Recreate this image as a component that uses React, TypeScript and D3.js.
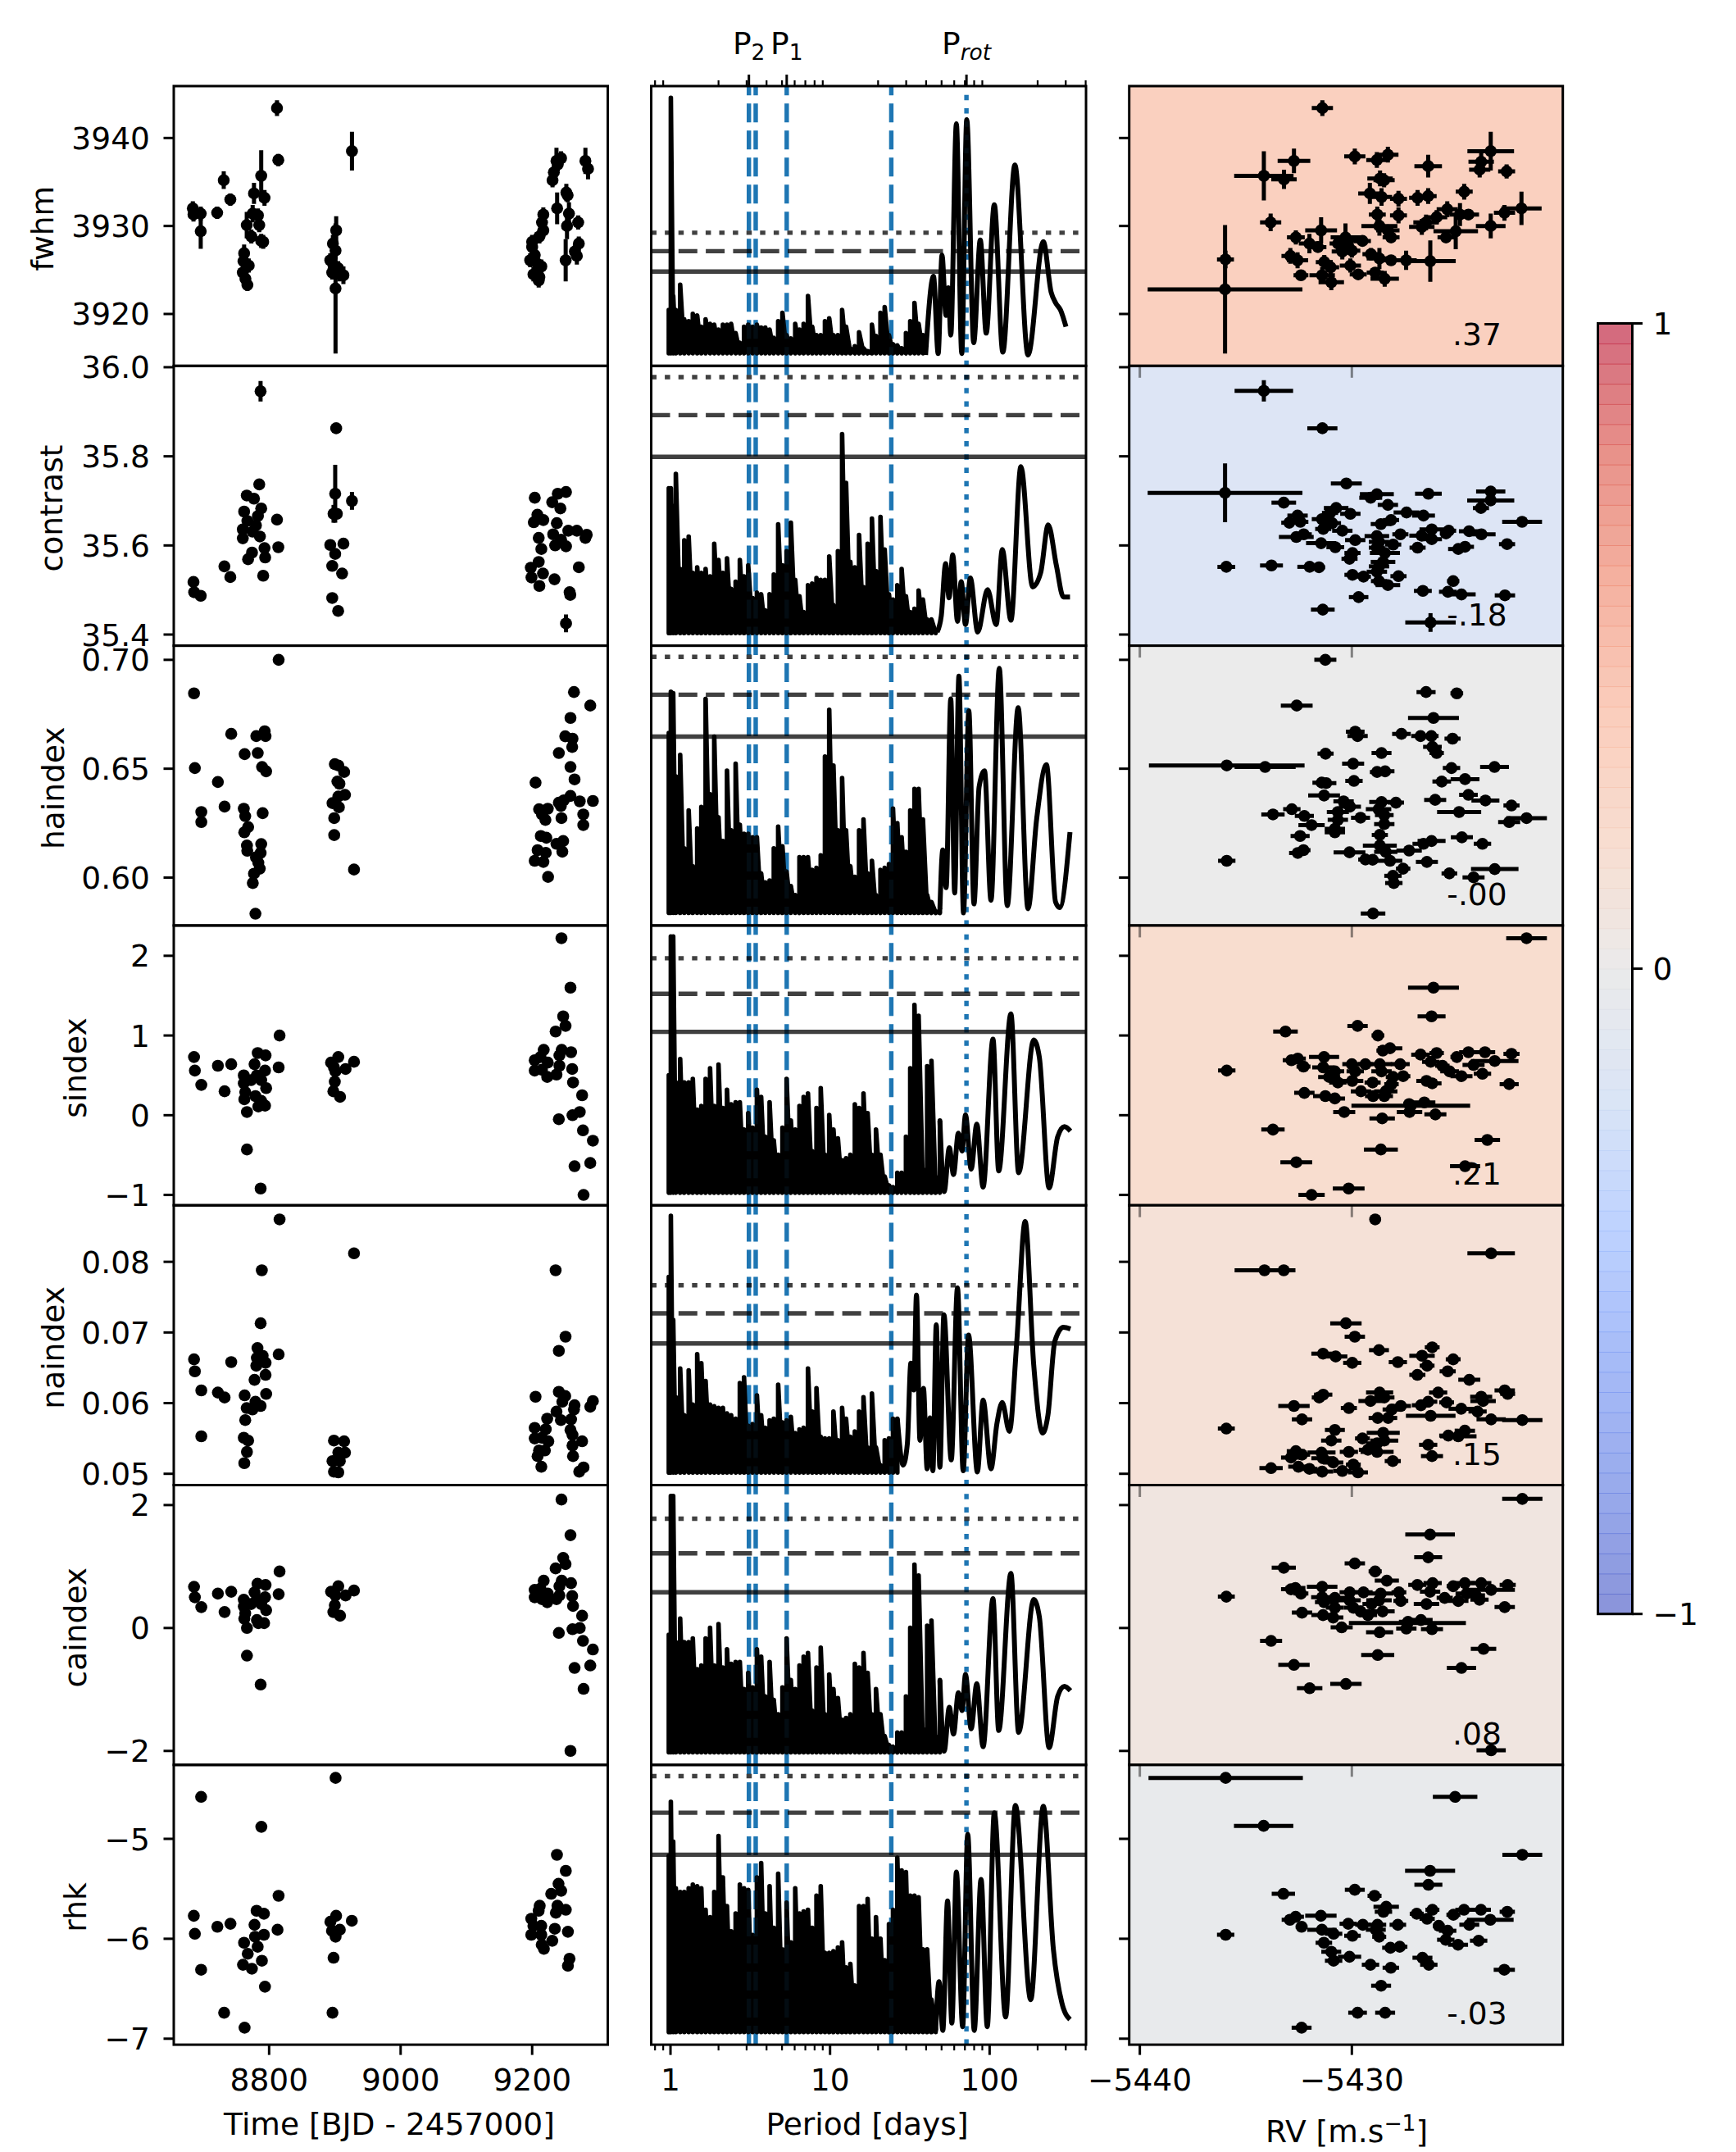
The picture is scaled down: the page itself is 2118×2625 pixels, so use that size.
import * as d3 from 'd3'

const WIDTH = 2118
const HEIGHT = 2625

// [time, value, error]
const fwhmSeries = [[8684,3932,.8],[8685,3931.3,.8],[8696,3931.4,.8],[8696,3929.4,2],[8721,3931.5,.7],[8731,3935.2,1],[8741,3933,.7],[8762,3926.9,1],[8761,3926,.8],[8769,3925.5,.8],[8760,3924.7,.8],[8764,3924,.8],[8767,3923.3,.7],[8766,3930.1,1.5],[8777,3933.7,1.2],[8775,3931.4,1],[8783,3931.2,.8],[8785,3930.1,.8],[8773,3928.8,.8],[8788,3928.3,.8],[8791,3928.2,.8],[8788,3935.7,2.9],[8793,3933.2,.9],[8812,3943.4,.9],[8814,3937.5,.7],[8926,3938.5,2.2],[8902,3929.5,1.6],[8897,3928,1],[8901,3927.2,1],[8893,3926.1,.8],[8898,3925.5,.8],[8896,3924.7,.8],[8905,3925.2,.8],[8907,3924.5,.8],[8913,3924.4,1],[8901,3922.9,7.4],[9231,3935.2,.8],[9233,3936.1,.8],[9237,3937.4,1.5],[9244,3937.7,.8],[9239,3937,.8],[9238,3932,1.8],[9252,3933.8,1],[9254,3933.5,.8],[9256,3931.4,1.3],[9253,3930,1.5],[9270,3930.4,.8],[9217,3931.3,.8],[9215,3930.4,.8],[9217,3929.5,.8],[9211,3928.8,.8],[9200,3928.2,.8],[9200,3927.6,.8],[9204,3926.7,.8],[9197,3926.1,.8],[9208,3925.7,.8],[9214,3925.4,.8],[9202,3924.5,.8],[9211,3924.2,.8],[9210,3923.8,.8],[9251,3926.1,2.4],[9271,3928,.8],[9268,3926.6,1],[9265,3927.1,.8],[9281,3937.4,1.5],[9285,3936.5,1.2]]
const contrastSeries = [[8787,35.946,.023],[8902,35.863,.01],[8900.5,35.716,.065],[8926,35.70,.02],[8785,35.737,.012],[8766,35.712,.01],[8777,35.705,.005],[8762,35.676,.01],[8788,35.683,.005],[8783,35.666,.01],[8812,35.658,.005],[8767,35.655,.005],[8780,35.645,.005],[8760,35.636,.005],[8775,35.631,.005],[8786,35.62,.005],[8760,35.616,.005],[8793,35.594,.005],[8814,35.596,.005],[8774,35.584,.005],[8794,35.573,.005],[8768,35.569,.005],[8732,35.553,.005],[8741,35.529,.005],[8791,35.532,.005],[8685,35.518,.005],[8686,35.495,.005],[8696,35.487,.005],[8898,35.671,.02],[8903,35.671,.005],[8893,35.601,.005],[8913,35.604,.005],[8900.5,35.581,.005],[8896,35.554,.005],[8911,35.537,.005],[8896,35.482,.005],[8905,35.453,.005],[9204,35.707,.005],[9251.5,35.72,.005],[9239,35.716,.005],[9230.5,35.697,.005],[9243,35.683,.005],[9208,35.669,.005],[9217,35.657,.005],[9202.5,35.652,.005],[9237.5,35.65,.005],[9255,35.633,.005],[9268,35.633,.005],[9232,35.625,.005],[9210,35.617,.005],[9283,35.624,.005],[9281,35.617,.005],[9244,35.613,.005],[9235,35.6,.005],[9251.5,35.598,.005],[9214,35.592,.005],[9210,35.563,.005],[9198,35.55,.005],[9271,35.551,.005],[9216.5,35.537,.005],[9199,35.528,.005],[9234,35.524,.005],[9211,35.509,.005],[9257,35.495,.005],[9258,35.489,.005],[9251.5,35.425,.02]]
const haindexSeries = [[8814.5,.70],[8685.8,.6846],[8742.4,.666],[8793.3,.6672],[8780.5,.665],[8794.6,.665],[8762.8,.6567],[8782.7,.6572],[8789.3,.6508],[8795.5,.6488],[8687.1,.6503],[8722.1,.6439],[8732.3,.6326],[8696.9,.6301],[8696.9,.6255],[8761.5,.6316],[8763.7,.6282],[8790.2,.6296],[8768.1,.6232],[8762.3,.6208],[8788,.6154],[8766.3,.6147],[8766.8,.6123],[8787.1,.6113],[8780,.6093],[8783.6,.6068],[8785.8,.6041],[8777,.6018],[8775.2,.5975],[8779.2,.5834],[8899.9,.6521],[8905.2,.6515],[8914.1,.6485],[8903.9,.6441],[8907,.6431],[8905.2,.6372],[8915.4,.638],[8896.4,.6342],[8906.1,.6323],[8899,.6273],[8899,.6195],[8929.1,.6037],[9263.6,.6852],[9288.4,.679],[9258.3,.6733],[9250.3,.6649],[9261.4,.6638],[9260.9,.66],[9240.6,.6572],[9258.3,.6508],[9264.5,.6451],[9205.2,.6436],[9258.3,.6375],[9240.6,.6344],[9248.1,.6355],[9272.4,.635],[9292.4,.6352],[9243.7,.6329],[9210.5,.6314],[9223.8,.6316],[9214.9,.629],[9220.2,.6265],[9244.6,.6273],[9277.8,.629],[9277.8,.6241],[9213.2,.6191],[9221.6,.6183],[9237,.6155],[9247.2,.6168],[9245.9,.6119],[9208.3,.6126],[9220.7,.6114],[9203.9,.6077],[9217.1,.6072],[9224.2,.6003]]
const sindexSeries = [[8814.5,.6],[8815.9,1],[8685.8,.73],[8687.1,.56],[8696.9,.38],[8722.1,.62],[8742.4,.64],[8732.3,.3],[8782.7,.78],[8794.6,.75],[8777.8,.64],[8793.8,.56],[8781.4,.5],[8761.5,.5],[8772.5,.44],[8761.5,.4],[8788,.44],[8795.5,.34],[8763.7,.29],[8762.3,.2],[8779.2,.24],[8788,.18],[8783.6,.11],[8793.8,.12],[8766.3,.04],[8766.3,-.43],[8787.1,-.92],[8905.2,.73],[8929.1,.67],[8894.2,.66],[8898.6,.6],[8916.3,.58],[8900.8,.55],[8899.9,.42],[8897.7,.3],[8907.9,.23],[9244.6,2.22],[9258.3,1.6],[9247.2,1.24],[9250.8,1.12],[9235.7,1.05],[9217.6,.82],[9245,.82],[9259.2,.79],[9241.5,.75],[9203.9,.69],[9212.7,.73],[9223.8,.66],[9203.9,.56],[9214.9,.57],[9241.5,.62],[9237,.51],[9222.9,.48],[9260.9,.58],[9262.2,.41],[9276,.25],[9240.6,-.05],[9261.4,0],[9272.4,.04],[9277.3,-.19],[9292.4,-.32],[9288.4,-.6],[9264.5,-.64],[9278.2,-1]]
const naindexSeries = [[8815.9,.086],[8929.1,.0812],[8788.9,.0788],[9235.7,.0788],[8787.1,.0713],[9250.8,.0694],[8782.3,.0678],[9240.6,.0674],[8814.5,.0669],[8790.2,.0667],[8781.4,.0664],[8685.8,.0662],[8742.4,.0658],[8794.6,.0657],[8780.5,.0653],[8687.1,.0645],[8794.6,.064],[8777.8,.0633],[8696.9,.0618],[8722.1,.0615],[8732.3,.0608],[8762.8,.0611],[8795.5,.0613],[8779.2,.0602],[9205.2,.0609],[9240.6,.0616],[9250.3,.061],[9245.9,.0602],[9292.4,.0603],[9288.4,.0595],[9264.5,.0597],[9263.6,.0591],[8787.1,.0596],[8774.7,.0591],[8765.9,.0593],[8763.7,.0576],[9237,.0588],[9222.9,.0578],[9243.7,.0576],[9259.2,.0577],[8696.9,.0553],[8761.5,.0551],[8768.1,.0547],[8766.3,.0531],[8762.3,.0515],[8898.6,.0547],[8914.1,.0546],[8905.2,.053],[8915.4,.053],[8896.4,.0518],[8907.5,.0518],[8898.6,.0503],[8905.2,.0502],[9203.9,.0565],[9220.7,.0563],[9258.3,.0562],[9261.4,.0555],[9203.9,.055],[9214.9,.0551],[9224.7,.0546],[9276,.0546],[9261.4,.054],[9210.5,.0533],[9219.4,.0533],[9208.3,.0525],[9262.2,.0525],[9214,.051],[9278.2,.0509],[9271.6,.0503]]
const caindexSeries = [[9244.6,2.09],[9258.3,1.51],[8815.9,.92],[9247.2,1.14],[9250.8,1.04],[9235.7,.97],[8685.8,.67],[8687.1,.5],[8696.9,.34],[8722.1,.56],[8742.4,.59],[8732.3,.26],[8814.5,.55],[8929.1,.61],[8782.3,.72],[8794.6,.7],[8777.8,.58],[8793.8,.5],[8781.4,.47],[8761.5,.46],[8772.5,.39],[8761.5,.35],[8788,.39],[8795.5,.29],[8763.7,.24],[8762.3,.15],[8781.4,.13],[8792.4,.08],[8783.6,.08],[8766.3,0],[8766.3,-.45],[8787.1,-.92],[8905.2,.68],[8894.2,.59],[8900.8,.53],[8916.3,.53],[8899.9,.37],[8897.7,.26],[8907.9,.2],[9217.6,.77],[9245,.77],[9259.2,.73],[9241.5,.68],[9203.9,.62],[9212.7,.64],[9223.8,.56],[9203.9,.5],[9214.9,.47],[9241.5,.53],[9237,.47],[9222.9,.42],[9260.9,.52],[9262.2,.36],[9276,.2],[9240.6,-.08],[9261.4,-.02],[9272.4,0],[9277.3,-.21],[9292.4,-.35],[9288.4,-.61],[9264.5,-.65],[9278.2,-.99],[9258.3,-2]]
const rhkSeries = [[8696.6,-4.58],[8901.1,-4.39],[8788.2,-4.88],[9237.7,-5.16],[9251.2,-5.32],[8814.4,-5.57],[9240.1,-5.45],[9244.1,-5.52],[9229,-5.55],[9211.5,-5.67],[9238.5,-5.67],[9251.2,-5.71],[9236.1,-5.74],[9209.9,-5.72],[8685.5,-5.77],[8781,-5.72],[8792.1,-5.75],[8901.9,-5.77],[8925.8,-5.82],[8893.2,-5.83],[8741.2,-5.85],[8721.3,-5.88],[8777.8,-5.86],[8812.8,-5.91],[9198.7,-5.8],[9201.9,-5.87],[9213.9,-5.87],[9254.4,-5.93],[9234.5,-5.9],[8907.5,-5.91],[8895.6,-5.92],[8687.1,-5.95],[8792.1,-5.96],[8901.1,-5.98],[9198.7,-5.96],[9213.9,-5.96],[8778.6,-5.98],[8761.9,-6.04],[9230.6,-6.02],[8782.6,-6.08],[9214.6,-6.06],[9217.9,-6.1],[8767.5,-6.15],[8898,-6.19],[8789,-6.22],[9256.8,-6.2],[8760.3,-6.26],[9254.4,-6.27],[8773.8,-6.3],[8696.6,-6.31],[8793.7,-6.48],[8731.6,-6.74],[8896.4,-6.74],[8762.7,-6.89]]

// [rv, value, rvError, valueError]
const fwhmRv = [[-5431.39,3943.4,.5,.9],[-5434.15,3935.7,1.4,2.8],[-5432.73,3937.4,.77,1.4],[-5433.2,3935.3,.6,1.1],[-5433.83,3930.4,.5,1],[-5429.86,3937.9,.5,.9],[-5428.82,3937.5,.5,.9],[-5428.3,3938.1,.5,.9],[-5428.67,3935.4,.6,.9],[-5428.48,3935.2,.5,.8],[-5426.4,3936.8,.65,1.3],[-5423.45,3938.5,1.1,2.2],[-5423.9,3937.3,.6,1],[-5423.97,3936.4,.5,.9],[-5422.7,3936.2,.4,.8],[-5424.7,3933.9,.4,.9],[-5429.15,3933.7,.55,1.2],[-5428.6,3933.3,.5,1],[-5427.8,3933.1,.4,.9],[-5426.9,3933.2,.4,.9],[-5426.4,3933.4,.4,.9],[-5422,3932,.95,1.9],[-5422.8,3931.5,.5,.9],[-5423.45,3930,.7,1.4],[-5428.8,3931.3,.4,.9],[-5427.8,3931.2,.4,.9],[-5425.5,3931.9,.5,.9],[-5424.9,3931.3,.5,1.3],[-5424.5,3931.3,.5,.6],[-5426,3931,.5,.8],[-5426.5,3930.4,.6,.9],[-5426.7,3929.9,.6,.9],[-5425.1,3929.4,1.05,2.05],[-5425.56,3928.7,.4,.6],[-5428.7,3930,.85,1.1],[-5428.3,3929.5,.55,.6],[-5428.15,3928.7,.4,.6],[-5431.45,3929.5,.75,1.5],[-5432.64,3928.7,.42,.8],[-5432,3928,.5,1.1],[-5431.6,3927.6,.4,.6],[-5430.3,3928.7,.7,1.6],[-5430.65,3928,.4,.8],[-5430.2,3928.3,.5,.8],[-5429.5,3928.3,.4,.6],[-5430.45,3927.1,.5,.9],[-5430,3927.2,.4,.8],[-5432.9,3926.6,.42,.9],[-5432.56,3926.1,.5,.9],[-5435.96,3926.2,.4,1],[-5435.98,3922.8,3.65,7.3],[-5426.3,3926,1.2,2.35],[-5427.44,3926.1,.5,1.1],[-5428.7,3926.3,.6,1.2],[-5428.15,3926.1,.4,.5],[-5429.1,3926.8,.4,.7],[-5431.3,3925.9,.4,.8],[-5431.4,3924.4,.6,.9],[-5431,3925.3,.4,.8],[-5430.07,3925.5,.5,.8],[-5429.7,3924.5,.4,.6],[-5428.9,3924.7,.4,.6],[-5428.45,3924,.67,.9],[-5430.97,3923.6,.6,.9],[-5432.4,3924.4,.35,.5]]
const contrastRv = [[-5434.15,35.947,1.38,.024],[-5431.39,35.863,.71,.01],[-5435.98,35.718,3.65,.066],[-5430.26,35.739,.73,0],[-5426.39,35.716,.63,0],[-5423.45,35.721,.69,0],[-5428.82,35.715,.8,0],[-5429.11,35.707,.54,0],[-5423.45,35.701,1.11,0],[-5428.3,35.691,.48,0],[-5433.21,35.696,.58,0],[-5423.91,35.684,.38,0],[-5430.74,35.684,.58,0],[-5430.07,35.671,.48,0],[-5427.42,35.674,.61,0],[-5426.62,35.667,.54,0],[-5431.03,35.673,.38,0],[-5432.56,35.667,.48,0],[-5421.97,35.653,.94,0],[-5431.41,35.659,.48,0],[-5432.95,35.651,.38,0],[-5432.43,35.653,.38,0],[-5430.93,35.65,.42,0],[-5428.15,35.657,.38,0],[-5428.63,35.648,.48,0],[-5430.45,35.633,.48,0],[-5431.35,35.637,.38,0],[-5426.23,35.636,.58,0],[-5425.43,35.633,.35,0],[-5425.56,35.627,.29,0],[-5424.47,35.632,.48,0],[-5423.89,35.625,.67,0],[-5427.71,35.625,.38,0],[-5426.71,35.622,.58,0],[-5426.23,35.614,.48,0],[-5432.27,35.625,.38,0],[-5432.62,35.619,.82,0],[-5429.84,35.612,.48,0],[-5428.82,35.621,.58,0],[-5428.72,35.608,.48,0],[-5431.45,35.605,.71,0],[-5422.68,35.603,.38,0],[-5430.78,35.596,.42,0],[-5428.05,35.602,.38,0],[-5428.82,35.595,.38,0],[-5426.9,35.595,.38,0],[-5424.98,35.592,.48,0],[-5424.66,35.597,.42,0],[-5428.44,35.583,.71,0],[-5429.97,35.583,.38,0],[-5430.11,35.57,.38,0],[-5428.53,35.563,.58,0],[-5435.92,35.552,.42,0],[-5433.79,35.555,.54,0],[-5431.99,35.552,.58,0],[-5431.55,35.551,.29,0],[-5428.72,35.553,.48,0],[-5429.97,35.534,.38,0],[-5429.45,35.53,.35,0],[-5428.82,35.541,.48,0],[-5427.8,35.531,.38,0],[-5428.72,35.52,.38,0],[-5428.3,35.511,.58,0],[-5425.22,35.52,.29,0],[-5426.65,35.498,.42,0],[-5425.47,35.496,.42,0],[-5424.83,35.49,.67,0],[-5422.78,35.488,.48,0],[-5429.68,35.484,.46,0],[-5431.37,35.456,.56,0],[-5426.29,35.427,1.19,.021]]
const haindexRv = [[-5431.25,.70,.52],[-5426.5,.6852,.45],[-5425.05,.6846,.3],[-5432.6,.679,.75],[-5426.15,.6733,1.2],[-5429.84,.667,.44],[-5429.73,.665,.48],[-5427.66,.666,.44],[-5426.76,.665,.44],[-5426.25,.665,.34],[-5425.25,.6638,.38],[-5426.2,.66,.44],[-5426,.6572,.34],[-5431.24,.6569,.38],[-5428.6,.6572,.47],[-5429.94,.6523,.52],[-5435.9,.6515,3.67],[-5434.09,.6508,1.44],[-5425.3,.6503,.41],[-5423.27,.6508,.68],[-5428.81,.6485,.34],[-5428.43,.6488,.44],[-5429.9,.6444,.41],[-5431.42,.6436,.44],[-5431.21,.6434,.48],[-5425.76,.6441,.44],[-5424.66,.6452,.68],[-5431.31,.6377,.75],[-5424.5,.638,.44],[-5426.07,.6357,.52],[-5423.7,.6354,.66],[-5430.39,.635,.48],[-5428.6,.6347,.58],[-5427.92,.6344,.38],[-5430.09,.6326,.52],[-5422.47,.6331,.38],[-5432.83,.6314,.41],[-5428.74,.6314,.6],[-5433.72,.629,.55],[-5430.66,.6301,.52],[-5432.24,.6283,.45],[-5428.47,.6287,.44],[-5429.59,.6275,.45],[-5424.94,.6301,1.04],[-5421.76,.6273,.96],[-5422.58,.6255,.52],[-5430.66,.6265,.48],[-5431.9,.6241,.62],[-5428.47,.6246,.48],[-5430.8,.6224,.48],[-5430.8,.6208,.48],[-5432.44,.6191,.45],[-5428.68,.6196,.38],[-5424.81,.6185,.52],[-5423.84,.6155,.41],[-5426.24,.6168,.66],[-5428.68,.6147,.8],[-5426.62,.6155,.52],[-5427.3,.6124,.6],[-5432.28,.6126,.33],[-5432.55,.6113,.41],[-5430.11,.6116,.75],[-5428.4,.6118,.55],[-5428.2,.6077,.58],[-5429.36,.6083,.34],[-5429.02,.6082,.27],[-5435.9,.6077,.41],[-5426.46,.6072,.52],[-5427.58,.6041,.34],[-5423.26,.6039,1.12],[-5425.4,.6019,.37],[-5424.26,.6001,.52],[-5428.06,.6008,.41],[-5428.02,.5975,.41],[-5429,.5835,.58]]
const sindexRv = [[-5421.76,2.22,.96],[-5426.15,1.6,1.2],[-5426.24,1.24,.66],[-5429.73,1.12,.48],[-5433.13,1.05,.58],[-5428.77,1,.3],[-5428.2,.84,.58],[-5428.54,.81,.3],[-5426.76,.76,.44],[-5426,.78,.34],[-5424.5,.79,.44],[-5423.72,.79,.48],[-5422.47,.77,.38],[-5425.05,.73,.3],[-5431.31,.73,.71],[-5432.55,.71,.38],[-5432.85,.69,.41],[-5432.28,.61,.33],[-5426.28,.67,.41],[-5423.26,.68,1.12],[-5424.26,.63,.52],[-5430,.64,.45],[-5429.36,.64,.34],[-5428.68,.64,.58],[-5427.72,.64,.45],[-5435.9,.56,.41],[-5431.35,.6,.52],[-5430.8,.55,.44],[-5429.84,.55,.41],[-5428.6,.55,.48],[-5425.73,.62,.34],[-5425.39,.55,.44],[-5424.83,.49,.52],[-5423.84,.52,.41],[-5427.58,.49,.34],[-5428.06,.48,.34],[-5431.07,.48,.52],[-5430.66,.41,.41],[-5429.98,.43,.52],[-5429.02,.41,.38],[-5428.13,.39,.34],[-5426.48,.43,.48],[-5426.21,.4,.44],[-5422.58,.39,.45],[-5428.4,.3,.55],[-5429.57,.3,.48],[-5432.24,.28,.48],[-5431.25,.24,.58],[-5430.8,.21,.48],[-5429,.24,.38],[-5428.47,.24,.41],[-5427.22,.12,2.8],[-5426.58,.16,.52],[-5427.3,.14,.27],[-5430.36,.04,.52],[-5427.28,.04,.6],[-5426.06,.01,.52],[-5428.57,-.04,.6],[-5433.72,-.18,.55],[-5423.61,-.31,.6],[-5428.63,-.43,.8],[-5432.62,-.59,.75],[-5424.66,-.64,.71],[-5430.15,-.92,.75],[-5431.9,-1,.62]]
const naindexRv = [[-5428.9,.086,.26],[-5423.43,.0812,1.12],[-5434.12,.0788,1.41],[-5433.21,.0788,.55],[-5430.28,.0713,.74],[-5429.86,.0694,.48],[-5426.21,.0679,.35],[-5428.72,.0675,.47],[-5431.36,.067,.55],[-5430.76,.0666,.55],[-5429.98,.0657,.43],[-5427.83,.0658,.43],[-5426.69,.0667,.6],[-5426.45,.0653,.35],[-5425.22,.0662,.35],[-5425.48,.0645,.38],[-5426.91,.064,.38],[-5424.46,.0633,.52],[-5422.79,.0618,.48],[-5422.65,.0613,.35],[-5428.69,.0615,.64],[-5425.93,.0615,.43],[-5431.35,.0612,.43],[-5431.54,.0608,.35],[-5423.9,.0609,.52],[-5423.81,.0603,.6],[-5428.47,.0608,.48],[-5429.12,.0603,.57],[-5432.73,.0596,.74],[-5430.14,.0593,.38],[-5426.4,.0602,.43],[-5425.53,.0601,.35],[-5426.74,.0597,.43],[-5427.69,.0596,.48],[-5428.12,.0591,.43],[-5424.84,.0592,.6],[-5424.07,.0588,.43],[-5426.28,.0582,1.17],[-5428.78,.0579,.43],[-5428.29,.0579,.43],[-5432.35,.0577,.48],[-5423.43,.0577,.69],[-5421.96,.0576,.95],[-5435.92,.0564,.4],[-5430.8,.0562,.47],[-5428.52,.0558,.78],[-5424.67,.0561,.48],[-5425.45,.0554,.43],[-5424.98,.0553,.86],[-5429.5,.055,.35],[-5430.97,.0547,.48],[-5428.47,.0547,.66],[-5428.81,.0543,.52],[-5426.4,.0541,.43],[-5429.24,.0534,.43],[-5428.81,.0531,.78],[-5432.64,.0532,.43],[-5431.43,.053,.66],[-5430.14,.0531,.43],[-5432.35,.0527,.38],[-5432.87,.0523,.47],[-5426.22,.0525,.52],[-5431.36,.0522,.55],[-5430.88,.0516,.48],[-5428.07,.0518,.38],[-5429.93,.0513,.35],[-5432.52,.051,.48],[-5433.81,.0508,.55],[-5432,.0507,.38],[-5431.4,.0503,.52],[-5430.45,.0504,.43],[-5429.71,.0502,.47]]
const caindexRv = [[-5421.96,2.1,.95],[-5426.31,1.52,1.17],[-5426.4,1.15,.66],[-5429.86,1.05,.48],[-5433.21,.98,.57],[-5428.9,.92,.31],[-5428.35,.77,.57],[-5426.19,.73,.43],[-5426.91,.7,.43],[-5424.67,.73,.48],[-5423.9,.73,.48],[-5422.65,.7,.38],[-5425.22,.68,.31],[-5431.4,.67,.72],[-5432.66,.65,.47],[-5432.87,.63,.47],[-5426.31,.59,.48],[-5423.43,.62,1.12],[-5430.1,.58,.48],[-5429.45,.58,.43],[-5428.64,.56,.6],[-5427.78,.58,.35],[-5424.59,.56,.52],[-5435.92,.51,.4],[-5432.4,.56,.35],[-5431.4,.5,.52],[-5430.8,.49,.52],[-5425.62,.49,.38],[-5424.15,.53,.43],[-5430.1,.45,.52],[-5428.72,.45,.6],[-5427.69,.44,.35],[-5423.98,.46,.43],[-5424.98,.44,.48],[-5431.31,.42,.43],[-5429.07,.39,.43],[-5426.48,.39,.6],[-5422.79,.34,.48],[-5430.8,.33,.43],[-5429.93,.33,.43],[-5429.59,.27,.43],[-5428.55,.27,.57],[-5429.24,.21,.43],[-5432.35,.25,.48],[-5431.36,.21,.55],[-5430.88,.17,.48],[-5427.35,.1,.43],[-5426.74,.13,.55],[-5427.38,.08,2.76],[-5430.48,.01,.52],[-5426.22,-.02,.52],[-5427.43,-.01,.48],[-5428.69,-.07,.64],[-5433.81,-.21,.52],[-5423.79,-.34,.6],[-5428.78,-.44,.78],[-5432.73,-.6,.74],[-5424.83,-.65,.69],[-5430.28,-.91,.74],[-5431.99,-.98,.6],[-5423.43,-1.99,.69]]
const rhkRv = [[-5435.95,-4.39,3.64],[-5425.13,-4.58,1.05],[-5434.16,-4.87,1.4],[-5421.96,-5.16,.94],[-5426.31,-5.32,1.18],[-5426.39,-5.46,.66],[-5429.86,-5.51,.47],[-5428.93,-5.57,.33],[-5433.23,-5.55,.55],[-5428.38,-5.68,.6],[-5426.2,-5.71,.33],[-5424.71,-5.71,.41],[-5423.91,-5.71,.47],[-5422.67,-5.73,.36],[-5426.94,-5.75,.33],[-5428.51,-5.73,.41],[-5425.21,-5.76,.33],[-5432.65,-5.78,.39],[-5431.46,-5.77,.74],[-5432.92,-5.81,.39],[-5423.47,-5.81,1.1],[-5426.45,-5.8,.36],[-5430.17,-5.85,.41],[-5429.48,-5.86,.36],[-5428.79,-5.86,.41],[-5427.83,-5.86,.39],[-5424.46,-5.86,.47],[-5432.37,-5.88,.28],[-5431.41,-5.91,.69],[-5425.9,-5.87,.28],[-5428.87,-5.91,.47],[-5425.48,-5.92,.41],[-5430.86,-5.95,.41],[-5429.97,-5.97,.39],[-5428.71,-5.98,.33],[-5435.95,-5.96,.41],[-5425.57,-6.01,.41],[-5424.02,-6.02,.41],[-5424.99,-6.06,.47],[-5431.32,-6.04,.39],[-5428.18,-6.09,.39],[-5427.74,-6.08,.36],[-5430.97,-6.13,.47],[-5430.11,-6.18,.55],[-5426.67,-6.19,.47],[-5430.86,-6.22,.41],[-5426.37,-6.26,.41],[-5429.12,-6.26,.41],[-5428.16,-6.29,.39],[-5422.81,-6.31,.5],[-5428.62,-6.47,.47],[-5429.73,-6.74,.44],[-5428.43,-6.74,.47],[-5432.37,-6.89,.47]]

// periods of the upper envelope of the dense part of every periodogram
const periodGrid = [.976,1.005,1.04,1.08,1.15,1.22,1.30,1.38,1.47,1.56,1.66,1.77,1.88,2.00,2.13,2.26,2.40,2.56,2.72,2.89,3.07,3.27,3.48,3.70,3.93,4.18,4.44,4.73,5.03,5.34,5.68,6.05,6.43,6.83,7.27,7.73,8.22,8.74,9.29,9.88,10.5,11.2,11.9,12.6,13.4,14.3,15.2,16.2,17.2,18.3,19.4,20.7,22.0,23.4,24.8,26.4,28.1,29.9,31.8,33.8,35.9,38.2,40.6,43.2,45.9,48.8]

const fwhmEnvelope = [.2,.958,.25,.2,.29,.166,.16,.186,.18,.14,.166,.15,.147,.13,.147,.147,.15,.117,.083,.14,.147,.14,.147,.137,.137,.13,.1,.16,.19,.11,.098,.15,.13,.15,.25,.14,.11,.11,.16,.17,.11,.11,.2,.14,.063,.07,.12,.063,.053,.147,.107,.19,.21,.11,.078,.073,.063,.117,.16,.225,.15,.11]
const contrastEnvelope = [.563,.563,.5,.614,.274,.377,.39,.26,.28,.26,.274,.248,.364,.306,.26,.312,.203,.229,.306,.248,.287,.17,.19,.184,.126,.184,.254,.434,.287,.338,.44,.235,.177,.12,.216,.222,.242,.235,.235,.319,.145,.338,.756,.582,.3,.28,.396,.21,.364,.454,.267,.46,.344,.184,.165,.216,.274,.177,.12,.132,.197,.165,.094,.094,.055]
const haindexEnvelope = [.688,.835,.83,.533,.61,.276,.411,.212,.347,.424,.81,.469,.675,.386,.302,.553,.34,.578,.36,.328,.328,.315,.315,.186,.154,.161,.276,.353,.283,.193,.141,.109,.244,.244,.244,.199,.206,.251,.604,.771,.572,.34,.527,.34,.212,.174,.34,.379,.186,.231,.109,.199,.206,.219,.418,.366,.315,.263,.411,.488,.488,.379,.109,.084,.051,.058]
const sindexEnvelope = [.465,.961,.961,.439,.523,.439,.439,.452,.342,.355,.452,.49,.355,.503,.348,.413,.361,.368,.368,.271,.329,.277,.413,.387,.245,.368,.232,.181,.277,.452,.303,.271,.355,.387,.4,.194,.348,.419,.181,.323,.271,.239,.161,.168,.181,.361,.348,.4,.329,.181,.271,.181,.103,.071,.065,.116,.116,.245,.49,.716,.677,.129,.497,.516,.103,.303]
const naindexEnvelope = [.744,.962,.59,.314,.417,.25,.41,.288,.468,.436,.372,.288,.282,.276,.276,.256,.25,.237,.365,.385,.212,.218,.321,.25,.205,.231,.237,.359,.224,.231,.244,.186,.199,.205,.417,.263,.346,.173,.167,.167,.263,.16,.276,.237,.173,.192,.263,.314,.135,.327,.135,.071,.16,.167,.237,.237]
const caindexEnvelope = sindexEnvelope
const rhkEnvelope = [.675,.868,.726,.559,.546,.546,.559,.572,.566,.559,.482,.456,.546,.746,.598,.495,.405,.469,.572,.559,.553,.392,.598,.649,.469,.566,.418,.611,.341,.508,.366,.559,.469,.476,.482,.418,.533,.566,.328,.328,.334,.347,.366,.276,.289,.212,.495,.495,.521,.379,.456,.379,.302,.431,.482,.668,.623,.617,.533,.533,.527,.341,.341,.161,.058]

// long period part: [period, power] at peaks and troughs
const fwhmTail = [[39.7,.039],[44.5,.32],[47.6,.044],[50.3,.396],[53.3,.18],[55.1,.279],[57.1,.11],[61.9,.865],[66.9,.044],[71.9,.88],[79.5,.083],[87.4,.45],[95.2,.117],[107,.576],[121,.049],[144,.718],[174,.039],[217,.444],[243,.263],[260,.224],[278,.2],[301,.14]]
const contrastTail = [[46.9,.049],[49.8,.107],[53,.293],[55.7,.171],[58.7,.325],[62.9,.087],[66.4,.229],[70.6,.075],[75.7,.242],[84.2,.049],[97.1,.2],[110,.075],[120,.344],[136,.091],[157,.64],[186,.21],[209,.261],[233,.432],[262,.287],[290,.174],[319,.174]]
const haindexTail = [[48.8,.058],[50.9,.27],[53.4,.135],[57.1,.81],[60.4,.116],[64.2,.891],[68.6,.045],[74.1,.767],[79.8,.077],[85.9,.495],[92.9,.553],[102,.09],[115,.919],[129,.071],[151,.778],[174,.06],[197,.379],[227,.575],[259,.084],[275,.064],[319,.334]]
const sindexTail = [[48.8,.303],[51.9,.049],[55.9,.206],[59.4,.11],[63.7,.258],[67.2,.194],[70.6,.323],[76.6,.129],[83.1,.29],[91,.065],[105,.594],[114,.123],[136,.684],[152,.116],[189,.591],[205,.529],[236,.062],[267,.245],[294,.281],[321,.265]]
const naindexTail = [[26.4,.237],[28.7,.071],[30.5,.147],[32.1,.436],[33.5,.34],[34.8,.679],[36.6,.16],[38.5,.346],[40.6,.058],[42.3,.24],[44.1,.051],[46.3,.573],[48.8,.064],[51.7,.609],[57.5,.09],[62.9,.705],[68.3,.051],[73.8,.536],[83.8,.047],[91,.304],[102,.058],[111,.218],[120,.295],[133,.192],[148,.513],[167,.942],[189,.429],[215,.186],[232,.25],[256,.513],[290,.564],[321,.558]]
const caindexTail = sindexTail
const rhkTail = [[45.9,.051],[48.2,.225],[50.9,.051],[54.5,.514],[58,.077],[61.9,.617],[67.8,.064],[72.9,.752],[80.1,.051],[88.4,.591],[96.7,.064],[107,.829],[126,.099],[145,.855],[181,.161],[217,.852],[251,.341],[284,.148],[319,.09]]

const names = ['fwhm', 'contrast', 'haindex', 'sindex', 'naindex', 'caindex', 'rhk']
const labelOffsets = [64.5, 76, 78, 105, 78, 105, 105]
const yDomains = [[3914.1, 3945.9], [35.375, 36.003], [.578, .7065], [-1.13, 2.38], [.0484, .088], [-2.227, 2.325], [-7.06, -4.26]]
const yTicks = [[3920, 3930, 3940], [35.4, 35.6, 35.8, 36], [.6, .65, .7], [-1, 0, 1, 2], [.05, .06, .07, .08], [-2, 0, 2], [-7, -6, -5]]
const yFormats = ['d', '.1f', '.2f', 'd', '.2f', 'd', 'd']
const correlations = [.37, -.18, -0, .21, .15, .08, -.03]
const correlationLabels = ['.37', '-.18', '-.00', '.21', '.15', '.08', '-.03']
// false alarm levels: solid, dashed, dotted
const fapLevels = [[.337, .41, .476], [.675, .824, .96], [.675, .825, .96], [.62, .756, .883], [.506, .614, .714], [.617, .756, .88], [.679, .829, .96]]

const seriesList = [fwhmSeries, contrastSeries, haindexSeries, sindexSeries, naindexSeries, caindexSeries, rhkSeries]
const rvList = [fwhmRv, contrastRv, haindexRv, sindexRv, naindexRv, caindexRv, rhkRv]
const envelopes = [fwhmEnvelope, contrastEnvelope, haindexEnvelope, sindexEnvelope, naindexEnvelope, caindexEnvelope, rhkEnvelope]
const tails = [fwhmTail, contrastTail, haindexTail, sindexTail, naindexTail, caindexTail, rhkTail]

const markedPeriods = [3.1, 3.42, 5.35, 24.2]
const rotationPeriod = 71.6
const minorPeriods = [.8, .9, 2, 3, 4, 5, 6, 7, 8, 9, 20, 30, 40, 50, 60, 70, 80, 90, 200, 300, 400]

const coolwarmStops = ['#3b4cc0', '#5573e0', '#6c8ff3', '#93b5fe', '#c3d3f0', '#dddddd', '#f3c7b1', '#f7ac8f', '#ed7d61', '#d8483b', '#b40426']

const PANEL_TOP = 105
const PANEL_H = 341.3
const COL_LEFT = [212, 794.5, 1377.7]
const COL_RIGHT = [741.5, 1325, 1906.7]
const FONT = 'DejaVu Sans'
const FS = 37.6
const SMALL_FS = 26.5
const INK = '#000'

const timeX = d3.scaleLinear().domain([8655, 9315]).range([COL_LEFT[0], COL_RIGHT[0]])
const periodX = d3.scaleLog().domain([.757, 402]).range([COL_LEFT[1], COL_RIGHT[1]])
const rvX = d3.scaleLinear().domain([-5440.5, -5420.05]).range([COL_LEFT[2], COL_RIGHT[2]])
const coolwarm = d3.scaleLinear<string>().domain(d3.range(11).map((i) => -1 + i * .2)).range(coolwarmStops)

const minus = (s: string) => s.replace('-', '\u2212')

function Ticks({ x, values }: { x: number; values: { y: number; label?: string }[] }) {
    return (
        <g>
            {values.map((t, i) => (
                <g key={i}>
                    <line x1={x - 12.5} x2={x} y1={t.y} y2={t.y} stroke={INK} strokeWidth={3} />
                    {t.label && (
                        <text x={x - 29} y={t.y + 13.5} textAnchor="end" fontSize={FS} fontFamily={FONT}>
                            {t.label}
                        </text>
                    )}
                </g>
            ))}
        </g>
    )
}

function Frame({ col, top }: { col: number; top: number }) {
    return (
        <rect x={COL_LEFT[col]} y={top} width={COL_RIGHT[col] - COL_LEFT[col]} height={PANEL_H} fill="none" stroke={INK} strokeWidth={3} />
    )
}

function Row({ index }: { index: number }) {
    const top = PANEL_TOP + index * PANEL_H
    const bottom = top + PANEL_H
    const y = d3.scaleLinear().domain(yDomains[index]).range([bottom, top])
    const power = d3.scaleLinear().domain([0, 1]).range([bottom, top])
    const fmt = d3.format(yFormats[index])
    const tickValues = yTicks[index].map((v) => ({ y: y(v), label: minus(fmt(v)) }))
    const plainTicks = yTicks[index].map((v) => ({ y: y(v) }))

    const floor = .045
    // the dense part swings between the floor and the envelope at every grid period
    const zigzag = (d3.zip(periodGrid, envelopes[index]) as number[][]).flatMap((d) => [[d[0], floor], d])
    const line = d3
        .line<number[]>()
        .x((d) => periodX(d[0]))
        .y((d) => power(d[1]))
    const tail = line.curve(d3.curveMonotoneX)(tails[index]) ?? ''
    const dense = line.curve(d3.curveLinear)(zigzag) ?? ''
    const [solid, dashed, dotted] = fapLevels[index]
    const clipId = `clip-${index}`

    const periodLines = (opacity: number) => (
        <g stroke="#1f77b4" strokeWidth={5.4} strokeOpacity={opacity}>
            {markedPeriods.map((p) => (
                <line key={p} x1={periodX(p)} x2={periodX(p)} y1={bottom} y2={top} strokeDasharray="23 10" />
            ))}
            <line x1={periodX(rotationPeriod)} x2={periodX(rotationPeriod)} y1={bottom} y2={top} strokeDasharray="6.5 9.7" />
        </g>
    )

    return (
        <g>
            <defs>
                {[0, 1, 2].map((c) => (
                    <clipPath key={c} id={`${clipId}-${c}`}>
                        <rect x={COL_LEFT[c]} y={top} width={COL_RIGHT[c] - COL_LEFT[c]} height={PANEL_H} />
                    </clipPath>
                ))}
            </defs>

            {/* time series */}
            <g clipPath={`url(#${clipId}-0)`}>
                {seriesList[index].map((d, i) => (
                    <g key={i}>
                        {d[2] ? (
                            <line x1={timeX(d[0])} x2={timeX(d[0])} y1={y(d[1] - d[2])} y2={y(d[1] + d[2])} stroke={INK} strokeWidth={5} />
                        ) : null}
                        <circle cx={timeX(d[0])} cy={y(d[1])} r={7.3} fill={INK} />
                    </g>
                ))}
            </g>
            <Ticks x={COL_LEFT[0]} values={tickValues} />
            <text transform={`translate(${labelOffsets[index]},${top + PANEL_H / 2 + 3}) rotate(-90)`} textAnchor="middle" fontSize={FS} fontFamily={FONT}>
                {names[index]}
            </text>
            <Frame col={0} top={top} />

            {/* periodogram */}
            <g clipPath={`url(#${clipId}-1)`}>
                {periodLines(1)}
                <path d={dense} fill="none" stroke={INK} strokeWidth={5.6} strokeLinejoin="round" strokeLinecap="round" />
                <path d={tail} fill="none" stroke={INK} strokeWidth={6} strokeLinejoin="round" />
                {periodLines(.1)}
                <g stroke={INK} strokeOpacity={.75} strokeWidth={5.4}>
                    <line x1={COL_LEFT[1]} x2={COL_RIGHT[1]} y1={power(solid)} y2={power(solid)} />
                    <line x1={COL_LEFT[1]} x2={COL_RIGHT[1]} y1={power(dashed)} y2={power(dashed)} strokeDasharray="23 10.3" />
                    <line x1={COL_LEFT[1]} x2={COL_RIGHT[1]} y1={power(dotted)} y2={power(dotted)} strokeDasharray="6.5 10.1" />
                </g>
            </g>
            <Frame col={1} top={top} />

            {/* correlation with RV */}
            <rect x={COL_LEFT[2]} y={top} width={COL_RIGHT[2] - COL_LEFT[2]} height={PANEL_H} fill={coolwarm(correlations[index])} fillOpacity={.6} />
            {index > 0 &&
                [-5440, -5430].map((v) => (
                    <line key={v} x1={rvX(v)} x2={rvX(v)} y1={top} y2={top + 14.5} stroke={INK} strokeOpacity={.45} strokeWidth={3} />
                ))}
            <g clipPath={`url(#${clipId}-2)`}>
                {rvList[index].map((d, i) => (
                    <g key={i}>
                        <line x1={rvX(d[0] - d[2])} x2={rvX(d[0] + d[2])} y1={y(d[1])} y2={y(d[1])} stroke={INK} strokeWidth={5} />
                        {d[3] ? (
                            <line x1={rvX(d[0])} x2={rvX(d[0])} y1={y(d[1] - d[3])} y2={y(d[1] + d[3])} stroke={INK} strokeWidth={5} />
                        ) : null}
                        <circle cx={rvX(d[0])} cy={y(d[1])} r={7.3} fill={INK} />
                    </g>
                ))}
            </g>
            <text x={1802} y={bottom - 25} textAnchor="middle" fontSize={FS} fontFamily={FONT}>
                {correlationLabels[index]}
            </text>
            <Ticks x={COL_LEFT[2]} values={plainTicks} />
            <Frame col={2} top={top} />
        </g>
    )
}

function Colorbar() {
    const left = 1949.5
    const right = 1991.5
    const y = d3.scaleLinear().domain([-1, 1]).range([1968.7, 394.5])
    const step = 2 / 64
    const levels = d3.range(-1, 1 - step / 2, step)
    return (
        <g>
            {levels.map((v) => (
                <rect key={v} x={left} y={y(v + step)} width={right - left} height={y(v) - y(v + step) + .8} fill={coolwarm(v + step / 2)} fillOpacity={.6} />
            ))}
            <rect x={left} y={y(1)} width={right - left} height={y(-1) - y(1)} fill="none" stroke={INK} strokeWidth={3} />
            {[-1, 0, 1].map((v) => (
                <g key={v}>
                    <line x1={right} x2={right + 12.5} y1={y(v)} y2={y(v)} stroke={INK} strokeWidth={3} />
                    <text x={right + 25} y={y(v) + 13.5} fontSize={FS} fontFamily={FONT}>
                        {minus(String(v))}
                    </text>
                </g>
            ))}
        </g>
    )
}

function BottomAxes() {
    const bottom = PANEL_TOP + 7 * PANEL_H
    const tickLabel = bottom + 56
    const major = (x: number, label: string) => (
        <g key={label}>
            <line x1={x} x2={x} y1={bottom} y2={bottom + 12.5} stroke={INK} strokeWidth={3} />
            <text x={x} y={tickLabel} textAnchor="middle" fontSize={FS} fontFamily={FONT}>
                {label}
            </text>
        </g>
    )
    return (
        <g>
            {[8800, 9000, 9200].map((v) => major(timeX(v), String(v)))}
            {[1, 10, 100].map((v) => major(periodX(v), String(v)))}
            {minorPeriods.map((v) => (
                <line key={v} x1={periodX(v)} x2={periodX(v)} y1={bottom} y2={bottom + 7} stroke={INK} strokeWidth={2.2} />
            ))}
            {[-5440, -5430].map((v) => major(rvX(v), minus(String(v))))}
            <text x={475} y={2604} textAnchor="middle" fontSize={FS} fontFamily={FONT}>
                Time [BJD - 2457000]
            </text>
            <text x={1058} y={2604} textAnchor="middle" fontSize={FS} fontFamily={FONT}>
                Period [days]
            </text>
            <text x={1643} y={2613} textAnchor="middle" fontSize={FS} fontFamily={FONT}>
                RV [m.s
                <tspan dy={-14} fontSize={SMALL_FS}>
                    {'\u22121'}
                </tspan>
                <tspan dy={14}>]</tspan>
            </text>
        </g>
    )
}

function TopAxis() {
    const top = PANEL_TOP
    return (
        <g>
            {minorPeriods.map((v) => (
                <line key={v} x1={periodX(v)} x2={periodX(v)} y1={top} y2={top - 7} stroke={INK} strokeWidth={2.2} />
            ))}
            {[markedPeriods[0], markedPeriods[2], rotationPeriod].map((v) => (
                <line key={v} x1={periodX(v)} x2={periodX(v)} y1={top} y2={top - 14} stroke={INK} strokeWidth={3} />
            ))}
            <text x={periodX(markedPeriods[0])} y={66} textAnchor="middle" fontSize={FS} fontFamily={FONT}>
                P<tspan dy={7} fontSize={SMALL_FS}>2</tspan>
            </text>
            <text x={periodX(markedPeriods[2])} y={66} textAnchor="middle" fontSize={FS} fontFamily={FONT}>
                P<tspan dy={7} fontSize={SMALL_FS}>1</tspan>
            </text>
            <text x={periodX(rotationPeriod)} y={66} textAnchor="middle" fontSize={FS} fontFamily={FONT}>
                P<tspan dy={7} fontSize={SMALL_FS} fontStyle="italic">rot</tspan>
            </text>
        </g>
    )
}

export default function App() {
    return (
        <svg width={WIDTH} height={HEIGHT} style={{ position: 'absolute', left: 0, top: 0, background: 'white', display: 'block' }}>
            {names.map((_, i) => (
                <Row key={i} index={i} />
            ))}
            <BottomAxes />
            <TopAxis />
            <Colorbar />
        </svg>
    )
}
